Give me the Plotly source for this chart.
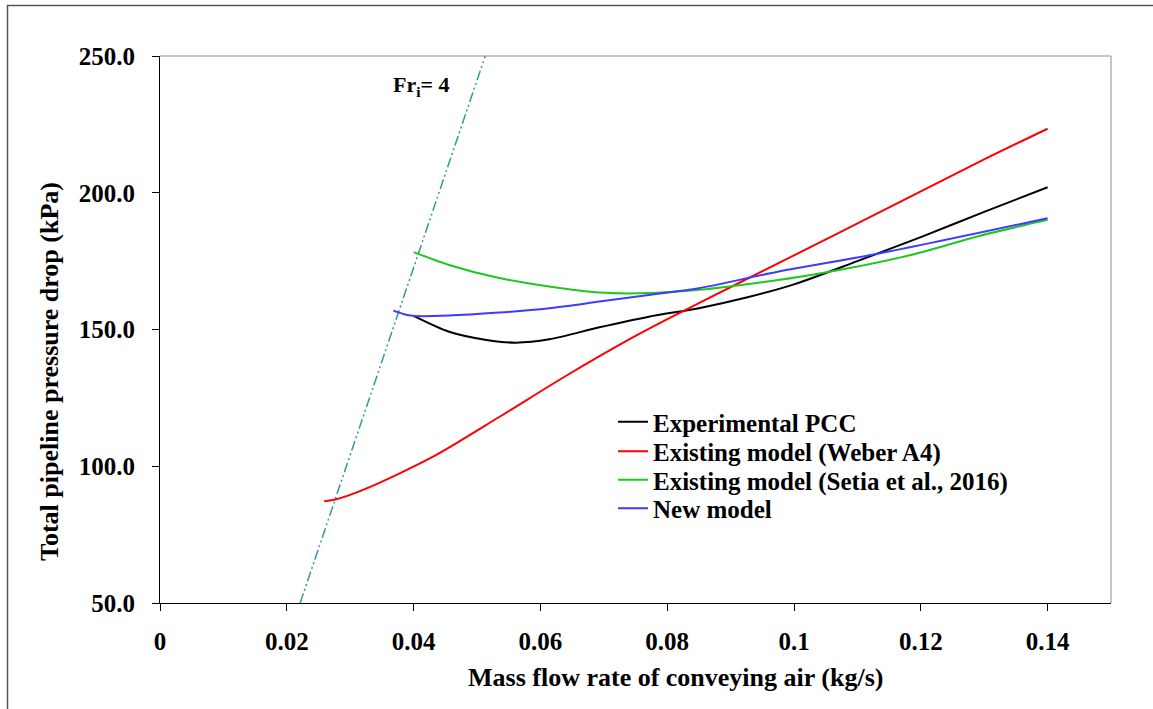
import plotly.graph_objects as go

# ---- data ----
exp_x = [0.0400, 0.0456, 0.0515, 0.0561, 0.0614, 0.0693, 0.0771, 0.0850, 0.0925, 0.1000, 0.1100, 0.1200, 0.1300, 0.1400]
exp_y = [155.0, 149.2, 146.2, 145.2, 146.4, 150.8, 154.7, 157.8, 161.7, 166.5, 175.0, 183.8, 193.0, 202.0]

weber_x = [0.0259, 0.0278, 0.0325, 0.0430, 0.0535, 0.0640, 0.0745, 0.0798, 0.0913, 0.1055, 0.1299, 0.1400]
weber_y = [87.2, 87.9, 91.8, 103.4, 118.0, 133.0, 147.0, 153.5, 167.0, 183.5, 212.1, 223.4]

setia_x = [0.0400, 0.0456, 0.0535, 0.0614, 0.0693, 0.0771, 0.0850, 0.0898, 0.1029, 0.1186, 0.1292, 0.1400]
setia_y = [178.3, 173.6, 168.8, 165.7, 163.5, 163.3, 164.5, 165.7, 170.0, 177.3, 184.2, 190.1]

new_x = [0.0368, 0.0385, 0.0398, 0.0456, 0.0535, 0.0614, 0.0693, 0.0771, 0.0850, 0.0976, 0.1134, 0.1400]
new_y = [156.9, 155.6, 155.0, 155.1, 156.2, 157.8, 160.2, 162.6, 165.1, 171.2, 177.8, 190.7]

fr_x = [0.0221, 0.0513]
fr_y = [50, 250]

x_ticks = [0, 0.02, 0.04, 0.06, 0.08, 0.1, 0.12, 0.14]
x_ticklabels = ["0", "0.02", "0.04", "0.06", "0.08", "0.1", "0.12", "0.14"]
y_ticks = [50, 100, 150, 200, 250]
y_ticklabels = ["50.0", "100.0", "150.0", "200.0", "250.0"]

series_names = ["Experimental PCC", "Existing model (Weber A4)",
                "Existing model (Setia et al., 2016)", "New model"]

FONT = "Liberation Serif"

L, R, T, B = 160, 42, 56, 106
W, H = 1153, 709
pw, ph = W - L - R, H - T - B

def px_x(px):
    return (px - L) / pw

def px_y(py):
    return (H - B - py) / ph

fig = go.Figure()
fig.add_trace(go.Scatter(x=fr_x, y=fr_y, mode="lines", showlegend=False,
                         line=dict(color="#2f9a9a", width=1.5, dash="10px,3px,2px,3px,2px,3px")))

series = [(exp_x, exp_y, "#000000"), (weber_x, weber_y, "#ff0000"),
          (setia_x, setia_y, "#1ec81e"), (new_x, new_y, "#3c3cff")]
legend_ids = ["legend", "legend2", "legend3", "legend4"]
row_centers = [422, 451.5, 480, 508.5]

for (sx, sy, col), name, lid in zip(series, series_names, legend_ids):
    fig.add_trace(go.Scatter(x=sx, y=sy, mode="lines", name="<b>%s</b>" % name, legend=lid,
                             line=dict(color=col, width=2, shape="spline", smoothing=0.8)))

legend_layouts = {}
for lid, yc in zip(legend_ids, row_centers):
    legend_layouts[lid] = dict(x=px_x(613), y=px_y(yc), xanchor="left", yanchor="middle",
                               bgcolor="rgba(0,0,0,0)", borderwidth=0,
                               font=dict(family=FONT, size=25, color="black"), itemwidth=30)

fig.update_layout(
    width=W, height=H,
    margin=dict(l=L, r=R, t=T, b=B),
    paper_bgcolor="white", plot_bgcolor="white",
    font=dict(family=FONT, size=25, color="black"),
    showlegend=True,
    xaxis=dict(range=[0, 0.15], tickvals=x_ticks, ticktext=["<b>%s</b>" % t for t in x_ticklabels],
               showgrid=False, zeroline=False, showline=True, linecolor="black", linewidth=1,
               ticks="outside", ticklen=7, tickcolor="black", tickwidth=1, ticklabelstandoff=9,
               tickfont=dict(family=FONT, size=25, color="black")),
    yaxis=dict(range=[50, 250], tickvals=y_ticks, ticktext=["<b>%s</b>" % t for t in y_ticklabels],
               showgrid=False, zeroline=False, showline=True, linecolor="black", linewidth=1,
               ticks="outside", ticklen=7, tickcolor="black", tickwidth=1, ticklabelstandoff=12,
               tickfont=dict(family=FONT, size=25, color="black")),
    **legend_layouts,
)

# plot frame top/right (gray)
fig.add_shape(type="line", xref="paper", yref="paper", x0=0, x1=1, y0=1, y1=1,
              line=dict(color="#8c8c8c", width=1))
fig.add_shape(type="line", xref="paper", yref="paper", x0=1, x1=1, y0=0, y1=1,
              line=dict(color="#8c8c8c", width=1))
# outer chart border
fig.add_shape(type="rect", xref="paper", yref="paper",
              x0=px_x(7.5), x1=px_x(1170), y0=px_y(720), y1=px_y(5.5),
              line=dict(color="#555555", width=1.5))

# axis titles
fig.add_annotation(xref="paper", yref="paper", x=px_x(675), y=px_y(677),
                   text="<b>Mass flow rate of conveying air (kg/s)</b>", showarrow=False,
                   font=dict(family=FONT, size=26, color="black"), xanchor="center", yanchor="middle")
fig.add_annotation(xref="paper", yref="paper", x=px_x(49), y=px_y(372),
                   text="<b>Total pipeline pressure drop (kPa)</b>", showarrow=False, textangle=-90,
                   font=dict(family=FONT, size=26, color="black"), xanchor="center", yanchor="middle")
# Fr annotation
fig.add_annotation(xref="paper", yref="paper", x=px_x(391), y=px_y(86),
                   text="<b>Fr<sub>i</sub>= 4</b>", showarrow=False,
                   font=dict(family=FONT, size=22, color="black"), xanchor="left", yanchor="middle")

fig.write_html("out.html")
